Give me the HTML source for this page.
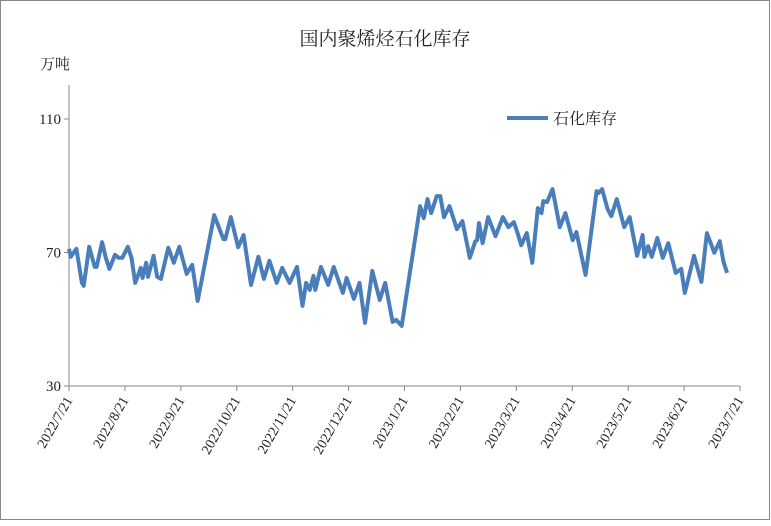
<!DOCTYPE html>
<html><head><meta charset="utf-8"><style>
body{margin:0;background:#fff}
svg text{font-family:"Liberation Serif","Noto Serif CJK SC","Noto Sans CJK SC",serif;fill:#222}
</style></head><body>
<svg id="c" width="771" height="521">
<rect x="0.5" y="0.5" width="769" height="519" fill="#fff" stroke="#888"/>
<text x="385" y="45" font-size="19" text-anchor="middle">国内聚烯烃石化库存</text>
<text x="40" y="69" font-size="15">万吨</text>
<g id="axes"></g>
<path id="line" fill="none" stroke="#4a7ebb" stroke-width="4" stroke-linejoin="round"/>
<line x1="507" y1="118" x2="548" y2="118" stroke="#4a7ebb" stroke-width="4"/>
<text x="553" y="124" font-size="16">石化库存</text>
</svg>
<script>
const days=[0,1,4,7,8,11,14,15,18,20,22,25,27,29,32,34,36,39,40,42,43,46,48,50,54,57,60,64,67,70,79,84,85,88,90,92,95,99,103,106,109,113,116,120,124,127,129,131,133,134,137,141,144,149,151,155,158,161,165,169,172,176,178,181,191,193,195,197,200,202,204,207,211,214,218,221,222,223,225,228,232,236,239,242,244,246,249,252,255,257,258,260,263,267,270,274,276,281,287,288,290,293,295,298,302,305,309,312,313,315,317,320,323,326,330,333,335,340,344,347,351,354,356,358];
const values=[71.1,68.7,71.1,60.9,60.0,71.7,65.7,65.7,73.1,68.4,65.1,69.3,68.4,68.4,71.7,68.4,60.9,65.4,62.4,66.9,62.7,69.0,62.7,62.1,71.4,66.9,71.7,63.6,66.3,55.5,81.2,74.0,74.0,80.6,76.1,71.6,75.2,60.3,68.7,62.1,67.5,60.9,65.4,60.9,65.7,54.0,60.9,58.8,63.0,58.8,65.7,60.3,65.7,57.9,62.4,56.1,60.9,48.9,64.5,55.8,60.9,49.2,49.8,48.0,
83.9,80.3,86.0,81.8,86.9,86.9,80.6,83.9,77.0,79.4,68.4,73.4,73.7,78.8,72.8,80.6,74.9,80.6,77.6,79.1,75.8,72.2,75.8,66.9,83.3,81.8,85.4,85.1,89.0,77.6,81.8,73.7,76.1,63.3,88.4,87.8,89.0,83.0,80.9,86.0,77.6,80.6,69.0,75.2,68.7,71.9,68.7,74.3,68.4,72.8,63.9,65.1,57.9,69.0,61.2,75.8,69.9,73.4,67.2,63.9];
const monthLabels=["2022/7/21","2022/8/21","2022/9/21","2022/10/21","2022/11/21","2022/12/21","2023/1/21","2023/2/21","2023/3/21","2023/4/21","2023/5/21","2023/6/21","2023/7/21"];
const yTicks=[30,70,110];
const X0=69,X1=740,Y0=386,YT=119;
const xs=d=>X0+d/365*(X1-X0);
const ys=v=>Y0-(v-30)/80*(Y0-YT);
const ns="http://www.w3.org/2000/svg";
const ax=document.getElementById('axes');
function mk(t,a){const e=document.createElementNS(ns,t);for(const k in a)e.setAttribute(k,a[k]);ax.appendChild(e);return e;}
let e=mk('line',{x1:X0,y1:85,x2:X0,y2:Y0,stroke:'#888'});


e=mk('line',{x1:X0,y1:Y0,x2:X1,y2:Y0,stroke:'#888'});


yTicks.forEach(v=>{
 const t=mk('text',{x:X0-8,y:ys(v)+5,'font-size':15,'text-anchor':'end'});t.textContent=v;
 
 
 const l=mk('line',{x1:X0-5,y1:ys(v),x2:X0,y2:ys(v),stroke:'#888'});
 
 
});
monthLabels.forEach((m,i)=>{
 const x=X0+i*(X1-X0)/12;
 const l=mk('line',{x1:x,y1:Y0,x2:x,y2:Y0+5,stroke:'#888'});
 
 
 const t=mk('text',{x:x+4,y:Y0+14,'font-size':14,'text-anchor':'end',transform:`rotate(-60 ${x+4} ${Y0+14})`});
 t.textContent=m;
 
 
});
document.getElementById('line').setAttribute('d',days.map((d,i)=>(i?'L':'M')+xs(d).toFixed(1)+','+ys(values[i]).toFixed(1)).join(''));
</script>
</body></html>
